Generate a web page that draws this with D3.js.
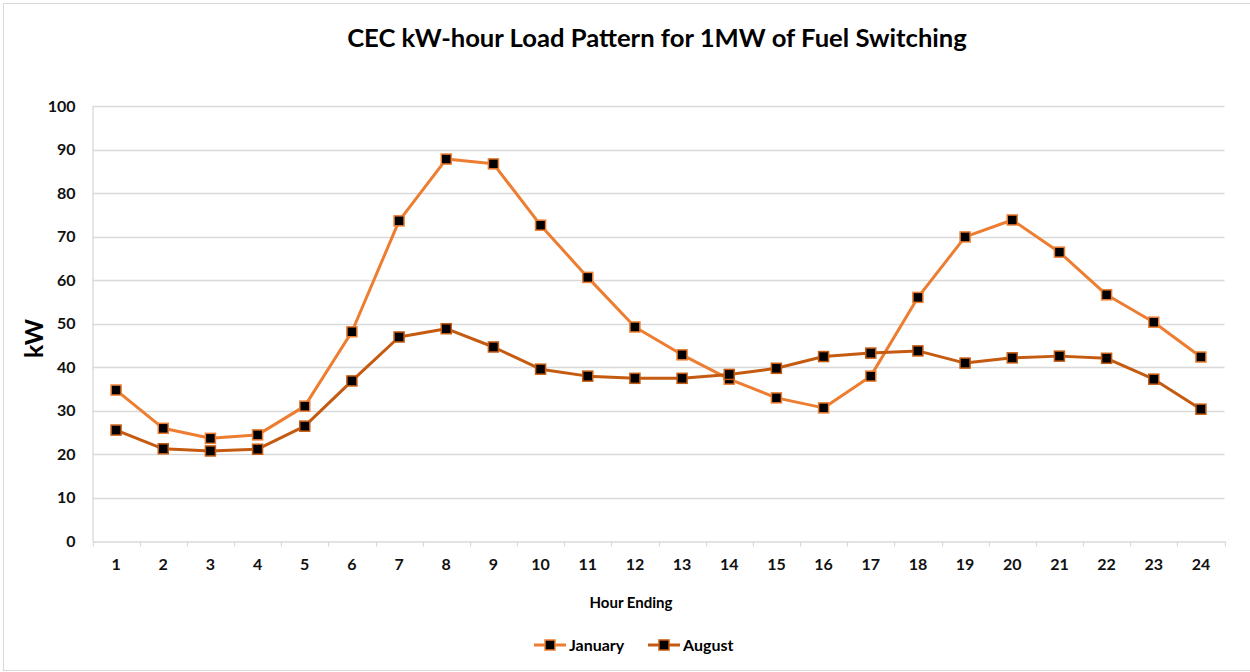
<!DOCTYPE html>
<html>
<head>
<meta charset="utf-8">
<script src="https://cdn.jsdelivr.net/npm/d3@7"></script>
<style>
  html, body { margin: 0; padding: 0; background: #fff; }
  svg { display: block; font-family: Lato, "Open Sans", sans-serif; }
</style>
</head>
<body>
<svg id="chart" width="1250" height="672"></svg>
<script>
// Hourly load profile (kW per 1 MW of fuel switching)
const hours = ["1","2","3","4","5","6","7","8","9","10","11","12","13","14","15","16","17","18","19","20","21","22","23","24"];
const january = [34.7, 25.9, 23.6, 24.4, 31.0, 48.1, 73.6, 87.8, 86.7, 72.6, 60.6, 49.2, 42.8, 37.2, 32.9, 30.6, 37.9, 56.0, 69.9, 73.8, 66.4, 56.6, 50.3, 42.3];
const august  = [25.5, 21.2, 20.7, 21.1, 26.4, 36.8, 46.9, 48.8, 44.6, 39.5, 37.9, 37.4, 37.4, 38.3, 39.7, 42.4, 43.2, 43.7, 40.9, 42.1, 42.5, 42.0, 37.2, 30.3];
const yTicks = [0, 10, 20, 30, 40, 50, 60, 70, 80, 90, 100];

const series = [
  { name: "January", values: january, color: "#ED7D31" },
  { name: "August",  values: august,  color: "#C55A11" }
];

const svg = d3.select("#chart");
const W = 1250, H = 672;
const plot = { left: 92.5, right: 1224.5, top: 106, bottom: 541 };

// chart frame
svg.append("rect")
  .attr("x", 3.5).attr("y", 3.5)
  .attr("width", W + 10).attr("height", H - 5)
  .attr("fill", "#fff").attr("stroke", "#d9d9d9").attr("stroke-width", 1);

const x = d3.scaleBand().domain(hours).range([plot.left, plot.right]).paddingInner(0).paddingOuter(0);
const y = d3.scaleLinear().domain([0, 100]).range([plot.bottom, plot.top]);
const cx = d => x(d) + x.bandwidth() / 2;

// horizontal gridlines
svg.append("g")
  .selectAll("line")
  .data(yTicks.filter(t => t > 0))
  .join("line")
  .attr("x1", plot.left).attr("x2", plot.right)
  .attr("y1", d => Math.round(y(d)) + 0.5).attr("y2", d => Math.round(y(d)) + 0.5)
  .attr("stroke", "#d9d9d9").attr("stroke-width", 1.3);

// y axis
const yAxis = svg.append("g")
  .attr("transform", `translate(${plot.left},0)`)
  .call(d3.axisLeft(y).tickValues(yTicks).tickSize(0).tickPadding(17));
yAxis.select(".domain").attr("stroke", "#d9d9d9").attr("stroke-width", 1.3);
yAxis.selectAll("text")
  .attr("font-family", "Lato, sans-serif")
  .attr("font-weight", "bold").attr("font-size", 16).attr("fill", "#111");

// x axis with tick marks at category boundaries
const xAxis = svg.append("g")
  .attr("transform", `translate(0,${plot.bottom + 0.5})`)
  .call(d3.axisBottom(x).tickSize(0).tickPadding(17));
xAxis.select(".domain").attr("stroke", "#d9d9d9").attr("stroke-width", 1.3);
xAxis.selectAll("text")
  .attr("font-family", "Lato, sans-serif")
  .attr("font-weight", "bold").attr("font-size", 16).attr("fill", "#111");
xAxis.append("g")
  .selectAll("line")
  .data(hours.concat(["end"]))
  .join("line")
  .attr("x1", (d, i) => Math.round(plot.left + i * x.bandwidth()) + 0.5)
  .attr("x2", (d, i) => Math.round(plot.left + i * x.bandwidth()) + 0.5)
  .attr("y1", 0).attr("y2", 5)
  .attr("stroke", "#d9d9d9").attr("stroke-width", 1.3);

// series lines and markers
const line = d3.line().x((d, i) => cx(hours[i])).y(d => y(d));
series.forEach(s => {
  const g = svg.append("g");
  g.append("path")
    .attr("d", line(s.values))
    .attr("fill", "none").attr("stroke", s.color)
    .attr("stroke-width", 3).attr("stroke-linejoin", "round");
  g.selectAll("rect")
    .data(s.values)
    .join("rect")
    .attr("x", (d, i) => cx(hours[i]) - 5)
    .attr("y", d => y(d) - 5)
    .attr("width", 10).attr("height", 10)
    .attr("fill", "#000").attr("stroke", s.color).attr("stroke-width", 1.5);
});

// title
const title = svg.append("text")
  .attr("x", 657).attr("y", 47)
  .attr("text-anchor", "middle")
  .attr("font-family", "Lato, sans-serif")
  .attr("font-weight", "bold").attr("font-size", 25).attr("fill", "#000")
  .text("CEC kW-hour Load Pattern for 1MW of Fuel Switching");
const tw = title.node().getComputedTextLength();
title.attr("font-size", 25 * 620 / tw);

// axis titles
svg.append("text")
  .attr("transform", `translate(43,${(plot.top + plot.bottom) / 2 + 15}) rotate(-90)`)
  .attr("text-anchor", "middle")
  .attr("font-family", "Lato, sans-serif")
  .attr("font-weight", "bold").attr("font-size", 25).attr("fill", "#000")
  .text("kW");

svg.append("text")
  .attr("x", 631).attr("y", 608)
  .attr("text-anchor", "middle")
  .attr("font-family", "Lato, sans-serif")
  .attr("font-weight", "bold").attr("font-size", 15).attr("fill", "#000")
  .text("Hour Ending");

// legend
const legendX = [534, 648];
series.forEach((s, i) => {
  const g = svg.append("g").attr("transform", `translate(${legendX[i]},645)`);
  g.append("line").attr("x1", 0).attr("x2", 32).attr("y1", 0).attr("y2", 0)
    .attr("stroke", s.color).attr("stroke-width", 3);
  g.append("rect").attr("x", 11).attr("y", -5).attr("width", 10).attr("height", 10)
    .attr("fill", "#000").attr("stroke", s.color).attr("stroke-width", 1.5);
  g.append("text").attr("x", 35).attr("y", 6)
    .attr("font-family", "Lato, sans-serif")
    .attr("font-weight", "bold").attr("font-size", 16).attr("fill", "#000")
    .text(s.name);
});
</script>
</body>
</html>
